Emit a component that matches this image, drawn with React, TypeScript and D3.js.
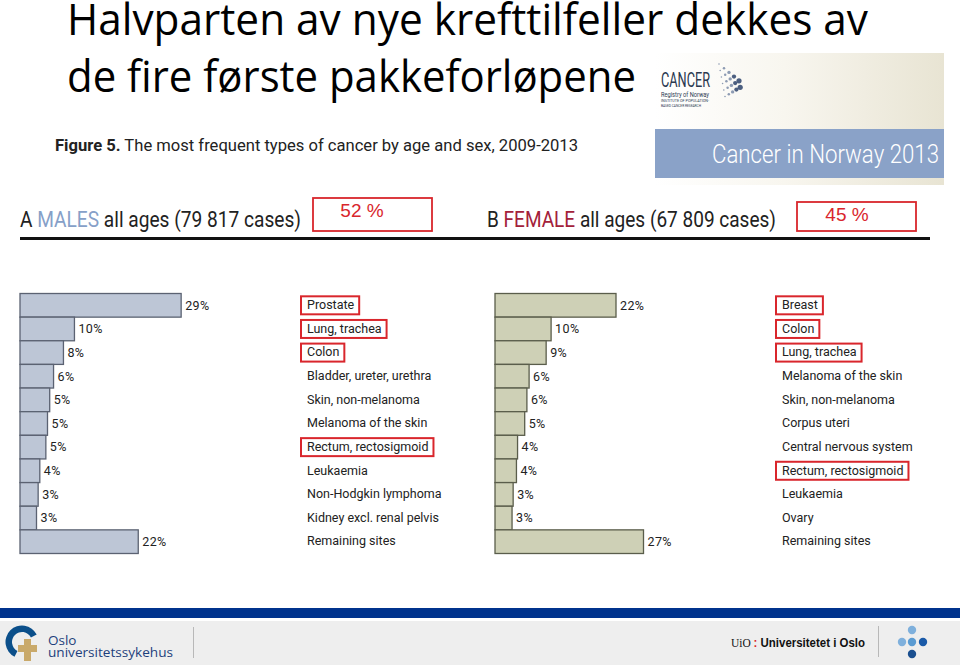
import React, { useEffect, useRef } from "react";
import * as d3 from "d3";

const maleCategories = [
  "Prostate", "Lung, trachea", "Colon", "Bladder, ureter, urethra", "Skin, non-melanoma",
  "Melanoma of the skin", "Rectum, rectosigmoid", "Leukaemia", "Non-Hodgkin lymphoma",
  "Kidney excl. renal pelvis", "Remaining sites",
];
const maleValues = [29.3, 9.9, 7.9, 6.1, 5.4, 5.0, 4.7, 3.6, 3.3, 3.0, 21.5];
const maleHighlighted = ["Prostate", "Lung, trachea", "Colon", "Rectum, rectosigmoid"];

const femaleCategories = [
  "Breast", "Colon", "Lung, trachea", "Melanoma of the skin", "Skin, non-melanoma",
  "Corpus uteri", "Central nervous system", "Rectum, rectosigmoid", "Leukaemia", "Ovary",
  "Remaining sites",
];
const femaleValues = [22.0, 10.2, 9.3, 6.2, 5.8, 5.4, 4.1, 3.9, 3.3, 3.1, 27.0];
const femaleHighlighted = ["Breast", "Colon", "Lung, trachea", "Rectum, rectosigmoid"];

const titleLines = ["Halvparten av nye krefttilfeller dekkes av", "de fire første pakkeforløpene"];
const shares = ["52 %", "45 %"];

const W = 960;
const H = 665;
const COND = "Roboto, 'DejaVu Sans', sans-serif";

export default function App() {
  const ref = useRef<SVGSVGElement | null>(null);

  useEffect(() => {
    const svg = d3.select(ref.current);
    svg.selectAll("*").remove();

    svg.append("rect").attr("width", W).attr("height", H).attr("fill", "#ffffff");

    const cond = (sel: any) => sel.attr("font-family", COND);

    // Title
    const title = svg.append("g").attr("font-family", "'Open Sans', sans-serif").attr("fill", "#000");
    title.append("text").attr("x", 67).attr("y", 35).attr("font-size", 44)
      .attr("textLength", 801).attr("lengthAdjust", "spacingAndGlyphs").text(titleLines[0]);
    title.append("text").attr("x", 67).attr("y", 92).attr("font-size", 44)
      .attr("textLength", 569).attr("lengthAdjust", "spacingAndGlyphs").text(titleLines[1]);

    // Logo block (top right)
    const defs = svg.append("defs");
    const lg = defs.append("linearGradient").attr("id", "beige").attr("x1", 0).attr("x2", 1).attr("y1", 0).attr("y2", 0);
    lg.append("stop").attr("offset", 0).attr("stop-color", "#ffffff");
    lg.append("stop").attr("offset", 0.45).attr("stop-color", "#f8f6ef");
    lg.append("stop").attr("offset", 1).attr("stop-color", "#e8e4d3");
    svg.append("rect").attr("x", 655).attr("y", 53).attr("width", 289).attr("height", 132).attr("fill", "url(#beige)");
    svg.append("rect").attr("x", 655).attr("y", 129).attr("width", 289).attr("height", 49).attr("fill", "#8aa2c8");
    cond(svg.append("text")).attr("x", 712).attr("y", 163)
      .attr("font-size", 25).attr("font-weight", 300).attr("fill", "#ffffff")
      .attr("textLength", 227).attr("lengthAdjust", "spacingAndGlyphs").text("Cancer in Norway 2013");
    cond(svg.append("text")).attr("x", 661).attr("y", 87).attr("font-size", 20)
      .attr("fill", "#2b3950").attr("textLength", 49).attr("lengthAdjust", "spacingAndGlyphs").text("CANCER");
    cond(svg.append("text")).attr("x", 661).attr("y", 97).attr("font-size", 8)
      .attr("fill", "#2b3950").attr("textLength", 48).attr("lengthAdjust", "spacingAndGlyphs").text("Registry of Norway");
    cond(svg.append("text")).attr("x", 661).attr("y", 102).attr("font-size", 4)
      .attr("fill", "#2b3950").attr("textLength", 48).attr("lengthAdjust", "spacingAndGlyphs").text("INSTITUTE OF POPULATION-");
    cond(svg.append("text")).attr("x", 661).attr("y", 106.5).attr("font-size", 4)
      .attr("fill", "#2b3950").attr("textLength", 40).attr("lengthAdjust", "spacingAndGlyphs").text("BASED CANCER RESEARCH");
    const dots = svg.append("g");
    for (let c = 0; c < 5; c++) {
      for (let r = 0; r < 6 - c; r++) {
        const cx = 719 + c * 5 + r * 1.2;
        const cy = 64 + c * 4.2 + r * 6.5;
        dots.append("circle").attr("cx", cx).attr("cy", cy).attr("r", 0.8 + c * 0.45)
          .attr("fill", c > 2 ? "#4c5f80" : "#8d9bb3");
      }
    }

    // Figure caption
    const cap = cond(svg.append("text")).attr("x", 55).attr("y", 151).attr("font-size", 17)
      .attr("fill", "#222").attr("textLength", 523).attr("lengthAdjust", "spacingAndGlyphs");
    cap.append("tspan").attr("font-weight", "bold").text("Figure 5.");
    cap.append("tspan").text(" The most frequent types of cancer by age and sex, 2009-2013");

    // Panel headings
    const hA = cond(svg.append("text")).attr("x", 20).attr("y", 227).attr("font-size", 22)
      .attr("fill", "#222").attr("textLength", 281).attr("lengthAdjust", "spacingAndGlyphs");
    hA.append("tspan").text("A ");
    hA.append("tspan").attr("fill", "#86a0c8").text("MALES");
    hA.append("tspan").text(" all ages (79 817 cases)");
    const hB = cond(svg.append("text")).attr("x", 487).attr("y", 227).attr("font-size", 22)
      .attr("fill", "#222").attr("textLength", 289).attr("lengthAdjust", "spacingAndGlyphs");
    hB.append("tspan").text("B ");
    hB.append("tspan").attr("fill", "#a3213a").text("FEMALE");
    hB.append("tspan").text(" all ages (67 809 cases)");

    // share boxes
    const boxes = [
      { x: 313, y: 198, w: 119, h: 33, tx: 362, ty: 217, t: shares[0] },
      { x: 797, y: 202, w: 119, h: 29, tx: 847, ty: 221, t: shares[1] },
    ];
    boxes.forEach((b) => {
      svg.append("rect").attr("x", b.x).attr("y", b.y).attr("width", b.w).attr("height", b.h)
        .attr("fill", "#fff").attr("stroke", "#d9262c").attr("stroke-width", 1.8);
      svg.append("text").attr("x", b.tx).attr("y", b.ty).attr("text-anchor", "middle")
        .attr("font-family", "'Liberation Sans', Arial, sans-serif").attr("font-size", 19)
        .attr("fill", "#d9262c").text(b.t);
    });

    svg.append("line").attr("x1", 20).attr("x2", 930).attr("y1", 238.5).attr("y2", 238.5)
      .attr("stroke", "#111").attr("stroke-width", 3);

    // Bar panels
    const xScale = d3.scaleLinear().domain([0, 100]).range([0, 550]);
    const drawPanel = (x0: number, labelX: number, cats: string[], vals: number[], hi: string[], fill: string, stroke: string) => {
      const y = d3.scaleBand<string>().domain(cats).range([293.5, 553.5]).paddingInner(0);
      const g = svg.append("g");
      g.selectAll("rect.bar").data(cats).enter().append("rect").attr("class", "bar")
        .attr("x", x0).attr("y", (d) => y(d)!)
        .attr("width", (d, i) => xScale(vals[i])).attr("height", y.bandwidth())
        .attr("fill", fill).attr("stroke", stroke).attr("stroke-width", 1.3);
      cond(g.selectAll("text.val").data(cats).enter().append("text").attr("class", "val"))
        .attr("x", (d: string, i: number) => x0 + xScale(vals[i]) + 4)
        .attr("y", (d: string) => y(d)! + y.bandwidth() / 2 + 1)
        .attr("dominant-baseline", "middle").attr("font-size", 12.5).attr("fill", "#222")
        .attr("letter-spacing", 0.4)
        .text((d: string, i: number) => `${Math.round(vals[i])}%`);
      const labels = cond(g.selectAll("text.cat").data(cats).enter().append("text").attr("class", "cat"))
        .attr("x", labelX).attr("y", (d: string) => y(d)! + y.bandwidth() / 2 + 0.5)
        .attr("dominant-baseline", "middle").attr("font-size", 12.5).attr("fill", "#222")
        .text((d: string) => d);
      labels.each(function (this: SVGTextElement, d: string) {
        if (!hi.includes(d)) return;
        const w = this.getComputedTextLength();
        g.append("rect").attr("x", labelX - 6).attr("y", y(d)! + y.bandwidth() / 2 - 9)
          .attr("width", w + 11).attr("height", 18).attr("fill", "none")
          .attr("stroke", "#d9262c").attr("stroke-width", 2);
      });
    };
    drawPanel(20, 307, maleCategories, maleValues, maleHighlighted, "#bdc6d6", "#5b6272");
    drawPanel(495, 782, femaleCategories, femaleValues, femaleHighlighted, "#ced0b6", "#5a5d4b");

    // Footer
    svg.append("rect").attr("x", 0).attr("y", 608).attr("width", W).attr("height", 10).attr("fill", "#00338d");
    svg.append("rect").attr("x", 0).attr("y", 618).attr("width", W).attr("height", 47).attr("fill", "#eeeeee");
    svg.append("rect").attr("x", 0).attr("y", 618).attr("width", W).attr("height", 3).attr("fill", "#ffffff");
    // Oslo logo
    const arc = d3.arc()({ innerRadius: 10, outerRadius: 16.5, startAngle: -Math.PI * 0.85, endAngle: Math.PI * 0.35 } as any);
    svg.append("path").attr("d", arc!).attr("transform", "translate(22,642)").attr("fill", "#0b4f8a");
    svg.append("path").attr("d", "M24,639 h7 v6 h6 v7 h-6 v9 h-7 v-9 h-6 v-7 h6 z").attr("fill", "#c9a96a");
    svg.append("text").attr("x", 48).attr("y", 645).attr("font-family", "'Open Sans', sans-serif").attr("font-size", 13.5)
      .attr("fill", "#1d3f7c").text("Oslo");
    svg.append("text").attr("x", 48).attr("y", 657).attr("font-family", "'Open Sans', sans-serif").attr("font-size", 13.5)
      .attr("fill", "#1d3f7c").attr("textLength", 125).attr("lengthAdjust", "spacingAndGlyphs").text("universitetssykehus");
    svg.append("line").attr("x1", 193.5).attr("x2", 193.5).attr("y1", 627).attr("y2", 658).attr("stroke", "#b8b8b8");
    // UiO
    const uio = svg.append("text").attr("x", 731).attr("y", 647).attr("font-size", 12.5).attr("fill", "#111")
      .attr("textLength", 134).attr("lengthAdjust", "spacingAndGlyphs");
    uio.append("tspan").attr("font-family", "'Liberation Serif', serif").text("UiO ");
    uio.append("tspan").attr("font-family", "'Liberation Sans', sans-serif").attr("fill", "#d9262c").attr("font-weight", "bold").text(":");
    uio.append("tspan").attr("font-family", "'Liberation Sans', sans-serif").attr("font-weight", "bold").text(" Universitetet i Oslo");
    svg.append("line").attr("x1", 878.5).attr("x2", 878.5).attr("y1", 626).attr("y2", 657).attr("stroke", "#b8b8b8");
    const dotData = [
        { x: 912, y: 630, c: "#7fb0dc" },
        { x: 902, y: 642, c: "#7fb0dc" },
        { x: 912, y: 642, c: "#5a9bd2" },
        { x: 923, y: 642, c: "#1a5aa8" },
        { x: 912, y: 654, c: "#1a4f8f" },
    ];
    svg.selectAll("circle.fdot").data(dotData).enter().append("circle").attr("class", "fdot")
      .attr("cx", (d) => d.x).attr("cy", (d) => d.y).attr("r", 4.2).attr("fill", (d) => d.c);
  }, []);

  return (
    <svg ref={ref} width={W} height={H} style={{ position: "absolute", left: 0, top: 0, display: "block" }} />
  );
}
